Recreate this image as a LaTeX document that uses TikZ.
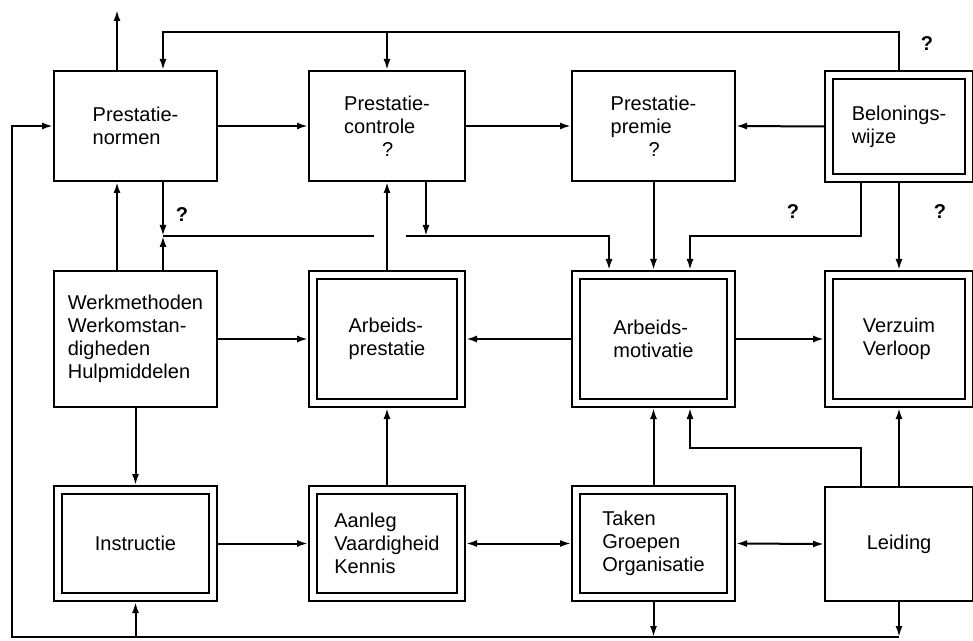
\documentclass[tikz,border=0pt]{standalone}
\usepackage{fontspec}
\setmainfont{Liberation Sans}
\usetikzlibrary{
  arrows.meta,
  calc
}
\tikzset{
blok/.style args = {#1/#2}{
            draw, line width=1pt,
            minimum width=#1pt-1pt, minimum height=#2pt-1pt,
            inner sep=0pt, align=left,
            font=\fontsize{10}{11.5}\selectfont},
dblok/.style args = {#1/#2}{
            draw, line width=1pt,
            double, double distance=2.8pt, outer sep=2.4pt,% outer edge of the double frame
            minimum width=#1pt-4.8pt, minimum height=#2pt-4.8pt,
            inner sep=0pt, align=left,
            font=\fontsize{10}{11.5}\selectfont},
pijl/.style = {-{Latex[length=5.5pt,width=3.5pt]}, line width=1pt},
pijlpijl/.style = {{Latex[length=5.5pt,width=3.5pt]}-{Latex[length=5.5pt,width=3.5pt]}, line width=1pt},
lijn/.style = {line width=1pt},
vraag/.style = {inner sep=0pt, font=\fontsize{10}{11.5}\selectfont\bfseries}
}

\begin{document}
\begin{tikzpicture}[x=0.5pt,y=-0.5pt]
  \useasboundingbox (0,0) rectangle (973,641);

  % bovenste rij
  \node[blok=82.5/56] (pnorm) at (135.5,126) {Prestatie-\\normen};
  \node[blok=79/56] (pcontr) at (387,126) {Prestatie-\\controle\\\hspace*{19pt}?};
  \node[blok=82.5/56] (ppremie) at (653.5,126) {Prestatie-\\premie\\\hspace*{19pt}?};
  \node[dblok=75/56.5] (beloning) at (899,126.5) {Belonings-\\wijze};
  % middelste rij
  \node[blok=82.5/69] (werkm) at (135.5,339) {Werkmethoden\\Werkomstan-\\digheden\\Hulpmiddelen};
  \node[dblok=79/69] (aprest) at (387,339) {Arbeids-\\prestatie};
  \node[dblok=82.5/69] (amotiv) at (653.5,339) {Arbeids-\\motivatie};
  \node[dblok=75/69] (verzuim) at (899,339) {Verzuim\\Verloop};
  % onderste rij
  \node[dblok=82.5/58.5] (instr) at (135.5,543.5) {Instructie};
  \node[dblok=79/58.5] (aanleg) at (387,543.5) {Aanleg\\Vaardigheid\\Kennis};
  \node[dblok=82.5/58.5] (taken) at (653.5,543.5) {Taken\\Groepen\\Organisatie};
  \node[blok=75/58] (leiding) at (899,544) {Leiding};

  \coordinate (kA) at (117,0);
  \coordinate (kB) at (163,0);
  \coordinate (kE) at (426,0);
  \coordinate (kF) at (609,0);
  \coordinate (kH) at (690,0);
  \coordinate (kI) at (861,0);
  \coordinate (kL) at (12,0);
  \coordinate (boven) at (0,32);
  \coordinate (midden) at (0,236);
  \coordinate (laag) at (0,448);
  \coordinate (onder) at (0,637);
  \coordinate (uit) at (117,10);
  \coordinate (kruis) at (163,236);
  \coordinate (gapL) at (374,236);
  \coordinate (gapR) at (406,236);

  % terugkoppeling boven
  \draw[pijl] (pnorm.north -| kA) -- (uit);
  \draw[pijl] (beloning.north) |- (kB |- boven) -- (pnorm.north -| kB);
  \draw[pijl] (pcontr.north |- boven) -- (pcontr.north);

  \draw[pijl] (pnorm.east) -- (pcontr.west);
  \draw[pijl] (pcontr.east) -- (ppremie.west);
  \draw[pijl] (beloning.west) -- (ppremie.east);

  \draw[pijl] (werkm.north -| kA) -- (pnorm.south -| kA);
  \draw[pijl] (pnorm.south -| kB) -- (kruis);
  \draw[pijl] (werkm.north -| kB) -- (kruis);
  \draw[lijn] (kruis) -- (gapL);
  \draw[pijl] (gapR) -| (amotiv.north -| kF);
  \draw[pijl] (pcontr.south -| kE) -- (kE |- midden);
  \draw[pijl] (aprest.north) -- (pcontr.south);
  \draw[pijl] (ppremie.south) -- (amotiv.north);
  \draw[pijl] (beloning.south -| kI) |- (kH |- midden) -- (amotiv.north -| kH);
  \draw[pijl] (beloning.south) -- (verzuim.north);

  \draw[pijl] (werkm.east) -- (aprest.west);
  \draw[pijl] (amotiv.west) -- (aprest.east);
  \draw[pijl] (amotiv.east) -- (verzuim.west);

  \draw[pijl] (werkm.south) -- (instr.north);
  \draw[pijl] (aanleg.north) -- (aprest.south);
  \draw[pijl] (taken.north) -- (amotiv.south);
  \draw[pijl] (leiding.north -| kI) |- (kH |- laag) -- (amotiv.south -| kH);
  \draw[pijl] (leiding.north) -- (verzuim.south);

  \draw[pijl] (instr.east) -- (aanleg.west);
  \draw[pijlpijl] (aanleg.east) -- (taken.west);
  \draw[pijlpijl] (taken.east) -- (leiding.west);

  % terugkoppeling onder
  \draw[pijl] (taken.south) -- (taken.south |- onder);
  \draw[pijl] (leiding.south) -- (leiding.south |- onder);
  \draw[pijl] (leiding.south |- onder) -- (kL |- onder) |- (pnorm.west);
  \draw[pijl] (instr.south |- onder) -- (instr.south);

  \node[vraag] (v1) at (927,44) {?};
  \node[vraag] (v2) at (182,215) {?};
  \node[vraag] (v3) at (793,212) {?};
  \node[vraag] (v4) at (940,212) {?};
\end{tikzpicture}
\end{document}
